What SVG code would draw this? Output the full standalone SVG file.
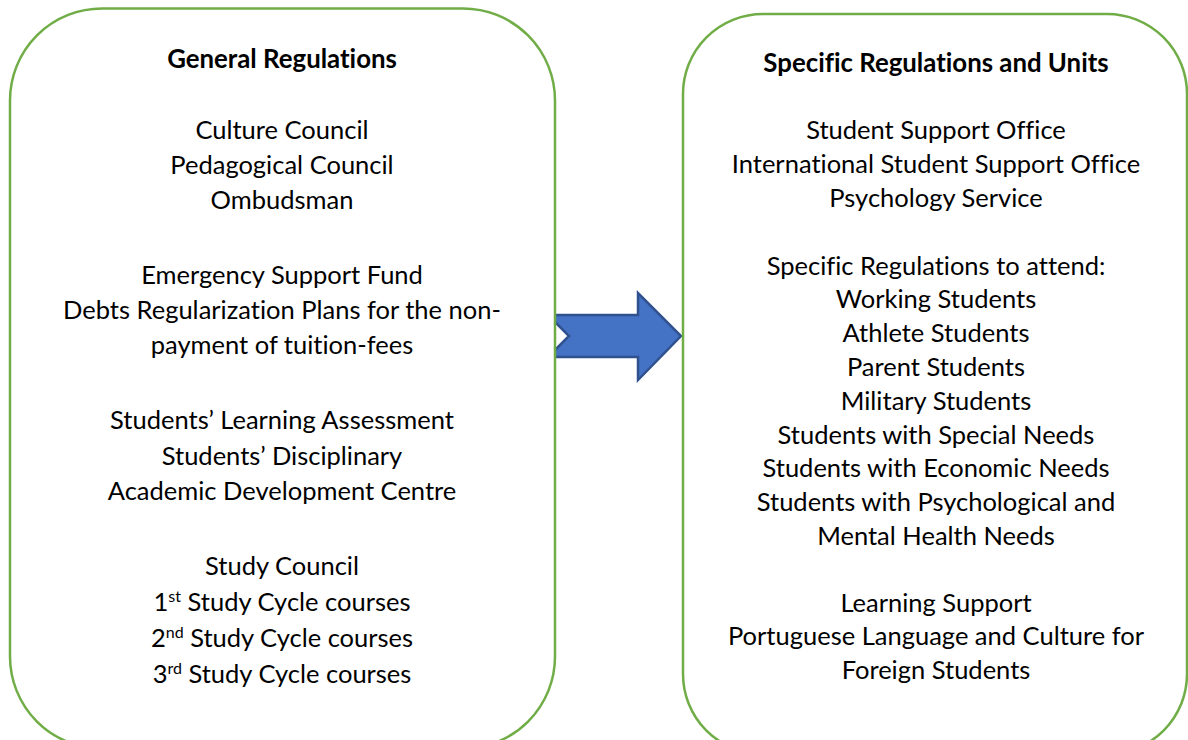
<svg xmlns="http://www.w3.org/2000/svg" width="1188" height="740" viewBox="0 0 1188 740">
<style>
.box{fill:#fff;stroke:#70AD47;stroke-width:2.5}
text{font-family:Lato,"Open Sans","Liberation Sans",sans-serif;font-size:25.5px;fill:#000;text-anchor:middle;font-variant-ligatures:none}
.t{font-weight:bold;font-size:25.8px}
.sup{font-size:16px}
</style>
<rect width="1188" height="740" fill="#fff"/>
<g id="connectors">
<polygon points="548,315 638,315 638,293 681,336 638,380 638,357 548,357 569,336" fill="#4472C4" stroke="#2F528F" stroke-width="2.5" stroke-linejoin="miter"/>
</g>
<g id="general">
<rect class="box" x="10" y="8.5" width="545" height="740" rx="92" ry="92"/>
<text x="282" y="68" class="t">General Regulations</text>
<text x="282" y="139">Culture Council</text>
<text x="282" y="174">Pedagogical Council</text>
<text x="282" y="209">Ombudsman</text>
<text x="282" y="284">Emergency Support Fund</text>
<text x="282" y="319">Debts Regularization Plans for the non-</text>
<text x="282" y="354">payment of tuition-fees</text>
<text x="282" y="429">Students’ Learning Assessment</text>
<text x="282" y="465">Students’ Disciplinary</text>
<text x="282" y="500">Academic Development Centre</text>
<text x="282" y="575">Study Council</text>
<text x="282" y="611">1<tspan class="sup" dy="-9">st</tspan><tspan dy="9"> Study Cycle courses</tspan></text>
<text x="282" y="647">2<tspan class="sup" dy="-9">nd</tspan><tspan dy="9"> Study Cycle courses</tspan></text>
<text x="282" y="683">3<tspan class="sup" dy="-9">rd</tspan><tspan dy="9"> Study Cycle courses</tspan></text>
</g>
<g id="specific">
<rect class="box" x="683" y="14" width="504" height="740" rx="80" ry="80"/>
<text x="936" y="72" class="t">Specific Regulations and Units</text>
<text x="936" y="139">Student Support Office</text>
<text x="936" y="173">International Student Support Office</text>
<text x="936" y="207">Psychology Service</text>
<text x="936" y="275">Specific Regulations to attend:</text>
<text x="936" y="308">Working Students</text>
<text x="936" y="342">Athlete Students</text>
<text x="936" y="376">Parent Students</text>
<text x="936" y="410">Military Students</text>
<text x="936" y="444">Students with Special Needs</text>
<text x="936" y="477">Students with Economic Needs</text>
<text x="936" y="511">Students with Psychological and</text>
<text x="936" y="545">Mental Health Needs</text>
<text x="936" y="612">Learning Support</text>
<text x="936" y="645">Portuguese Language and Culture for</text>
<text x="936" y="679">Foreign Students</text>
</g>
</svg>
